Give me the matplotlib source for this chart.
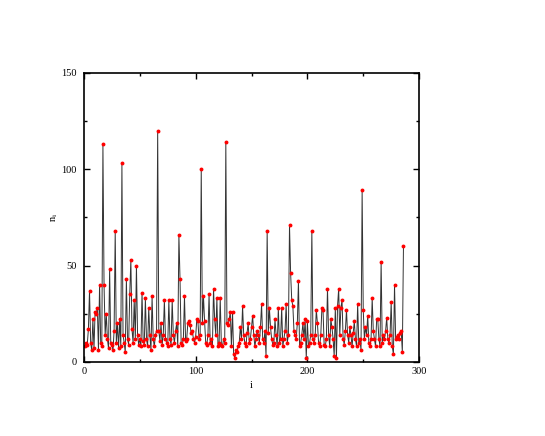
import matplotlib
matplotlib.use("Agg")
import matplotlib.pyplot as plt
from matplotlib.ticker import MultipleLocator

plt.rcParams["font.family"] = ["Liberation Serif", "DejaVu Serif"]
plt.rcParams["mathtext.fontset"] = "stix"

# values, i = 1..286
n_vals = [
    8, 10, 9, 17, 37, 10, 6, 22, 7, 26,
    25, 28, 6, 40, 10, 8, 113, 40, 14, 25,
    12, 7, 48, 10, 9, 6, 16, 68, 10, 20,
    7, 22, 8, 103, 14, 10, 5, 43, 12, 9,
    35, 53, 17, 10, 32, 12, 50, 14, 9, 12,
    8, 36, 11, 9, 33, 12, 8, 28, 14, 6,
    34, 12, 8, 14, 16, 120, 16, 11, 20, 9,
    14, 32, 12, 10, 8, 32, 12, 9, 32, 14,
    10, 16, 20, 8, 66, 43, 10, 9, 12, 34,
    11, 12, 20, 21, 19, 15, 16, 12, 10, 13,
    22, 21, 12, 14, 100, 20, 34, 21, 10, 9,
    14, 35, 10, 12, 8, 38, 22, 14, 33, 8,
    10, 33, 9, 8, 12, 10, 114, 20, 19, 22,
    26, 8, 26, 4, 2, 6, 5, 8, 10, 18,
    12, 29, 14, 10, 8, 15, 20, 10, 12, 18,
    24, 14, 8, 12, 16, 14, 10, 18, 30, 12,
    10, 16, 3, 68, 15, 28, 18, 12, 9, 10,
    22, 14, 8, 28, 10, 12, 28, 8, 12, 16,
    30, 10, 14, 71, 46, 32, 29, 16, 14, 12,
    20, 42, 8, 10, 14, 20, 12, 22, 2, 21,
    8, 10, 14, 68, 12, 10, 14, 27, 20, 10,
    8, 14, 28, 27, 9, 8, 12, 38, 14, 8,
    22, 18, 12, 3, 28, 2, 29, 38, 14, 28,
    32, 12, 9, 16, 27, 14, 10, 18, 14, 8,
    15, 21, 12, 8, 30, 10, 12, 6, 89, 27,
    12, 18, 14, 24, 10, 8, 12, 33, 16, 12,
    8, 22, 22, 12, 8, 52, 10, 14, 12, 16,
    23, 12, 10, 14, 31, 8, 4, 40, 12, 13,
    14, 12, 15, 16, 5, 60,
]
i_vals = list(range(1, len(n_vals) + 1))

fig = plt.figure(figsize=(5.45, 4.36), dpi=100)
ax = fig.add_axes([0.154, 0.170, 0.615, 0.663])

ax.plot(i_vals, n_vals, color="#333333", lw=0.7, zorder=1)
ax.plot(i_vals, n_vals, "o", color="red", ms=2.8, mec="none", zorder=2)

ax.set_xlim(0, 300)
ax.set_ylim(0, 150)
ax.xaxis.set_major_locator(MultipleLocator(100))
ax.xaxis.set_minor_locator(MultipleLocator(50))
ax.yaxis.set_major_locator(MultipleLocator(50))
ax.yaxis.set_minor_locator(MultipleLocator(25))
ax.tick_params(which="both", direction="in", top=True, right=True,
               labelsize=7.5, width=1)
ax.tick_params(axis="x", pad=4)
ax.tick_params(axis="y", pad=5)
ax.tick_params(which="major", length=4)
ax.tick_params(which="minor", length=2)
for s in ax.spines.values():
    s.set_linewidth(1.2)

ax.set_xlabel("i", fontsize=7.5, labelpad=3)
ax.set_ylabel(r"n$_\mathregular{i}$", fontsize=7.5, labelpad=1)

fig.savefig("out.png", dpi=100)
